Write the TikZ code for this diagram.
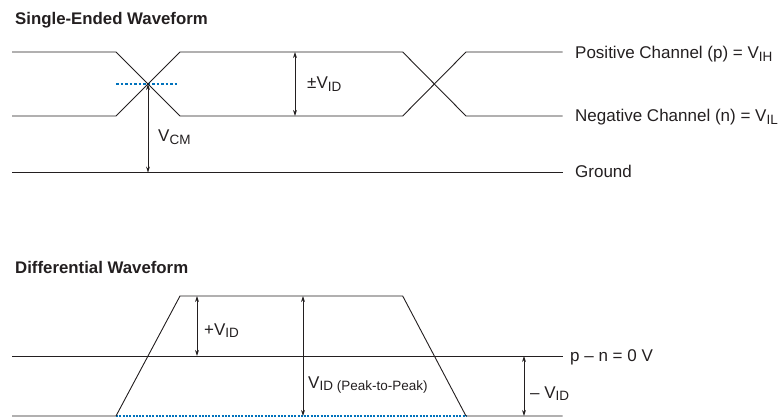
\documentclass[tikz,border=0pt]{standalone}
\usepackage{fontspec}
\setmainfont{Liberation Sans}
\usetikzlibrary{arrows.meta}
\definecolor{guideblue}{RGB}{0,114,188}
\definecolor{ink}{RGB}{35,31,32}
\newcommand{\vsub}[1]{\raisebox{-2.8pt}{\fontsize{13.5}{14}\selectfont #1}}
\begin{document}
\begin{tikzpicture}[x=1pt,y=-1pt,
 wave/.style={line width=0.9pt, draw=ink, line join=miter},
 dim/.style={line width=0.7pt, draw=ink, {Stealth[length=6pt,width=3.8pt]}-{Stealth[length=6pt,width=3.8pt]}},
 guide/.style={line width=1.1pt, draw=guideblue, dash pattern=on 2.5pt off 2pt},
 lbl/.style={anchor=base west, inner sep=0pt, font=\fontsize{17}{20}\selectfont, text=ink},
 ttl/.style={anchor=base west, inner sep=0pt, font=\fontsize{16.8}{20}\selectfont\bfseries, text=ink}]
\useasboundingbox (0,0) rectangle (782,417);

% ---------- Single-ended ----------
\node[ttl] (t1) at (15,24.3) {Single-Ended Waveform};

\coordinate (aL) at (12,52);   \coordinate (a1) at (116,52);
\coordinate (a2) at (180,116); \coordinate (a3) at (402.7,116);
\coordinate (a4) at (466,52);  \coordinate (aR) at (562.7,52);
\coordinate (bL) at (12,116);  \coordinate (b1) at (116,116);
\coordinate (b2) at (180,52);  \coordinate (b3) at (402.7,52);
\coordinate (b4) at (466,116); \coordinate (bR) at (562.7,116);
\coordinate (gL) at (12,172.6); \coordinate (gR) at (562.7,172.6);
\coordinate (x1) at (148,84);
\coordinate (dL) at (116,84); \coordinate (dR) at (178,84);
\coordinate (vcmB) at (148,172.6);
\coordinate (vidT) at (295,52); \coordinate (vidB) at (295,116);

\draw[guide] (dL) -- (dR);
\draw[wave] (aL) -- (a1) -- (a2) -- (a3) -- (a4) -- (aR);
\draw[wave] (bL) -- (b1) -- (b2) -- (b3) -- (b4) -- (bR);
\draw[wave] (gL) -- (gR);
\draw[dim] (x1) -- (vcmB);
\draw[dim] (vidT) -- (vidB);

\node[lbl] (pos) at (575,58.5) {Positive Channel (p) = V\vsub{IH}};
\node[lbl] (neg) at (575,122) {Negative Channel (n) = V\vsub{IL}};
\node[lbl] (gnd) at (575,178) {Ground};
\node[lbl] (pmvid) at (307,89) {±V\vsub{ID}};
\node[lbl] (vcm) at (158,141.7) {V\vsub{CM}};

% ---------- Differential ----------
\node[ttl] (t2) at (15,273) {Differential Waveform};

\coordinate (mL) at (12,356); \coordinate (mR) at (562.7,356);
\coordinate (cL) at (12,416); \coordinate (c1) at (116,416);
\coordinate (c2) at (180,296); \coordinate (c3) at (402.7,296);
\coordinate (c4) at (466,416); \coordinate (cR) at (562.7,416);
\coordinate (pvT) at (197,296); \coordinate (pvB) at (197,356);
\coordinate (ppT) at (303,296); \coordinate (ppB) at (303,416);
\coordinate (nvT) at (524,356); \coordinate (nvB) at (524,416);

\draw[wave] (mL) -- (mR);
\draw[guide, line width=1.2pt, dash pattern=on 2pt off 1.3pt] (c1) -- (c4);
\draw[wave] (cL) -- (c1) -- (c2) -- (c3) -- (c4) -- (cR);
\draw[dim] (pvT) -- (pvB);
\draw[dim] (ppT) -- (ppB);
\draw[dim] (nvT) -- (nvB);

\node[lbl] (pn) at (570,361.5) {p – n = 0 V};
\node[lbl] (plusvid) at (204,335) {+V\vsub{ID}};
\node[lbl] (pkpk) at (308,388) {V\vsub{ID (Peak-to-Peak)}};
\node[lbl] (minvid) at (530,398) {– V\vsub{ID}};
\end{tikzpicture}
\end{document}
